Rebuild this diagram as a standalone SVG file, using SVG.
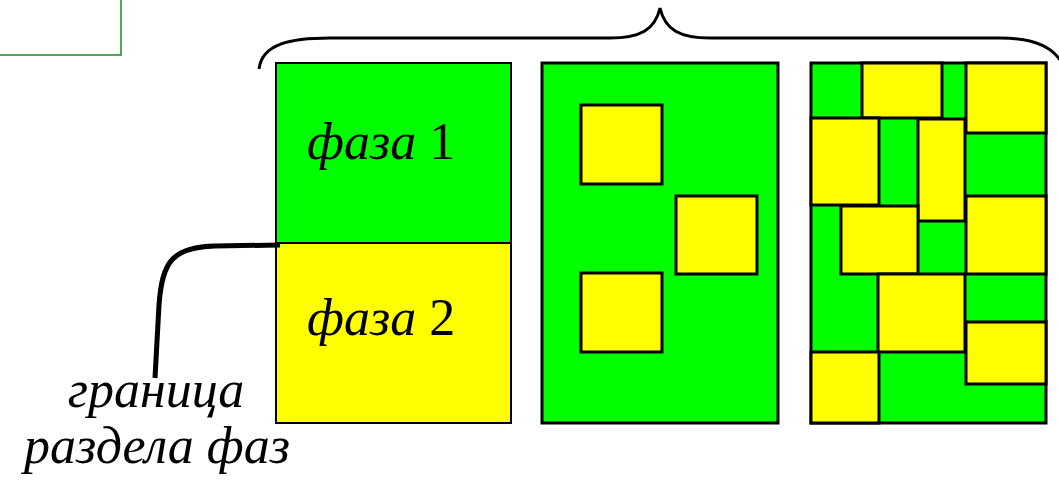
<svg xmlns="http://www.w3.org/2000/svg" width="1059" height="485" viewBox="0 0 1059 485">
  <style>
    .g { fill: #00ff00; }
    .y { fill: #ffff00; }
    .edge { stroke: #000; stroke-width: 3; }
    .thin { stroke: #000; stroke-width: 2; }
    .lbl { font-family: "Liberation Serif", "Times New Roman", serif; font-size: 52px; fill: #000; }
    .it { font-style: italic; }
  </style>
  <rect width="1059" height="485" fill="#fff"/>

  <!-- corner frame -->
  <rect id="frame" x="-10" y="-10" width="131" height="65" fill="none" stroke="#1a8c1a" stroke-width="1.5"/>

  <!-- brace over the three panels -->
  <path id="brace" d="M259 69 C262 44 290 38 330 38 L610 38 C640 38 655 30 660 8 C665 30 680 38 710 38 L1000 38 C1030 38 1050 45 1060 60" fill="none" stroke="#000" stroke-width="3"/>

  <!-- panel 1: two separated phases -->
  <g id="panel1">
    <rect class="g thin" x="276" y="63" width="235" height="180"/>
    <rect class="y thin" x="276" y="243" width="235" height="180"/>
    <text class="lbl" x="307" y="159"><tspan class="it">фаза</tspan> 1</text>
    <text class="lbl" x="307" y="335"><tspan class="it">фаза</tspan> 2</text>
  </g>

  <!-- panel 2: inclusions of phase 2 in phase 1 -->
  <g id="panel2">
    <rect class="g edge" x="542" y="63" width="236" height="360"/>
    <rect class="y edge" x="581" y="105" width="81" height="79"/>
    <rect class="y edge" x="676" y="196" width="81" height="78"/>
    <rect class="y edge" x="581" y="273" width="81" height="79"/>
  </g>

  <!-- panel 3: mosaic of both phases (green ground, yellow grains) -->
  <g id="panel3">
    <rect class="g edge" x="811" y="63" width="235" height="360"/>
    <rect class="y edge" x="862" y="63" width="80" height="55"/>
    <rect class="y edge" x="966" y="63" width="80" height="70"/>
    <rect class="y edge" x="811" y="118" width="68" height="87"/>
    <rect class="y edge" x="918" y="119" width="47" height="102"/>
    <rect class="y edge" x="966" y="196" width="80" height="78"/>
    <rect class="y edge" x="841" y="206" width="77" height="68"/>
    <rect class="y edge" x="878" y="274" width="87" height="78"/>
    <rect class="y edge" x="966" y="322" width="80" height="62"/>
    <rect class="y edge" x="811" y="352" width="68" height="71"/>
  </g>

  <!-- pointer to the phase boundary -->
  <g id="connectors">
    <path d="M280 245 L215 246 C172 247 162 262 159 305 L155 378" fill="none" stroke="#000" stroke-width="5"/>
  </g>

  <g id="boundary-label">
    <text class="lbl it" x="156" y="407" text-anchor="middle" font-size="48">граница</text>
    <text class="lbl it" x="157" y="463" text-anchor="middle" font-size="48">раздела фаз</text>
  </g>
</svg>
